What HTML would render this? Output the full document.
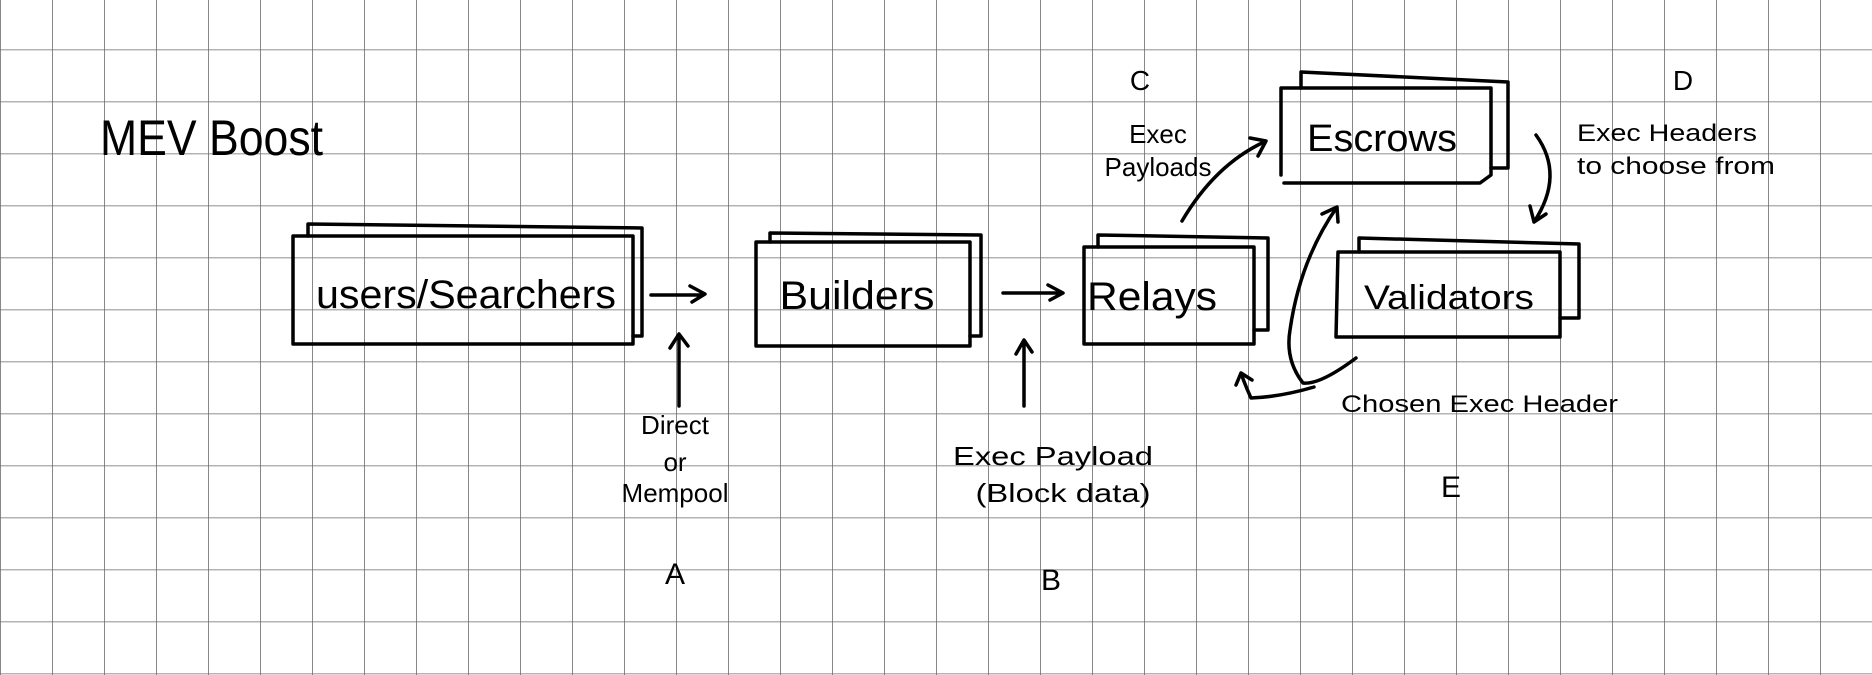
<!DOCTYPE html>
<html><head><meta charset="utf-8"><style>
html,body{margin:0;padding:0;background:#fff}
svg{display:block}
text{font-family:"Liberation Sans",sans-serif;fill:#000}
</style></head><body>
<svg width="1872" height="675" viewBox="0 0 1872 675" xmlns="http://www.w3.org/2000/svg">
<defs>
<pattern id="g" width="52" height="52" patternUnits="userSpaceOnUse" x="0" y="49.5">
<path d="M0 0H52M0 0V52" stroke="#6a6a6a" stroke-width="1.6" fill="none"/>
</pattern>
</defs>
<rect width="1872" height="675" fill="#fff"/>
<rect width="1872" height="675" fill="url(#g)"/>
<g fill="none" stroke="#000" stroke-width="3.5" stroke-linecap="round" stroke-linejoin="round">
<path d="M308 236V224L642 228V336H633"/>
<rect x="293" y="236" width="340" height="108"/>
<path d="M770 242V233L981 235V336H970"/>
<rect x="756" y="242" width="214" height="104"/>
<path d="M1098 247V235L1268 238V330H1254"/>
<rect x="1084" y="247" width="170" height="97"/>
<path d="M1301 88V72L1508 82V168H1491"/>
<path d="M1281 88H1491V175L1480 183H1284M1281 88V175"/>
<path d="M1359 252V238L1579 244V318H1560"/>
<path d="M1338 252H1560V337H1336Z"/>
<path d="M651 295H703M690 286L705 294L692 302"/>
<path d="M679 406V336M670 348L679 334L688 346"/>
<path d="M1003 293H1061M1048 285L1063 293L1050 300"/>
<path d="M1024 406V342M1016 354L1024 340L1032 352"/>
<path d="M1182 221Q1215 165 1264 142M1250 138L1266 141L1258 156"/>
<path d="M1536 135Q1565 175 1534 222M1530 206L1534 222L1546 214"/>
<path d="M1356 358Q1320 385 1303 383Q1285 360 1290 330Q1300 260 1337 207M1322 214L1337 207L1338 222"/>
<path d="M1314 387Q1280 397 1251 398Q1245 385 1241 373L1236 385M1241 373L1252 380"/>
</g>
<text x="100" y="155" font-size="50" textLength="223" lengthAdjust="spacingAndGlyphs">MEV Boost</text>
<text x="466" y="308" font-size="40" text-anchor="middle" textLength="300" lengthAdjust="spacingAndGlyphs">users/Searchers</text>
<text x="857" y="309" font-size="40" text-anchor="middle" textLength="155" lengthAdjust="spacingAndGlyphs">Builders</text>
<text x="1152" y="310" font-size="40" text-anchor="middle" textLength="130" lengthAdjust="spacingAndGlyphs">Relays</text>
<text x="1382" y="151" font-size="38" text-anchor="middle" textLength="150" lengthAdjust="spacingAndGlyphs">Escrows</text>
<text x="1449" y="309" font-size="34" text-anchor="middle" textLength="170" lengthAdjust="spacingAndGlyphs">Validators</text>
<g font-size="26" text-anchor="middle">
<text x="675" y="434">Direct</text>
<text x="675" y="471">or</text>
<text x="675" y="502">Mempool</text>
<text x="675" y="584" font-size="30">A</text>
<text x="1053" y="465" textLength="200" lengthAdjust="spacingAndGlyphs">Exec Payload</text>
<text x="1063" y="502" textLength="175" lengthAdjust="spacingAndGlyphs">(Block data)</text>
<text x="1051" y="590" font-size="30">B</text>
<text x="1140" y="90" font-size="28">C</text>
<text x="1158" y="143">Exec</text>
<text x="1158" y="176">Payloads</text>
<text x="1683" y="90" font-size="28">D</text>
<text x="1451" y="497" font-size="30">E</text>
</g>
<g font-size="24">
<text x="1577" y="141" textLength="180" lengthAdjust="spacingAndGlyphs">Exec Headers</text>
<text x="1577" y="174" textLength="198" lengthAdjust="spacingAndGlyphs">to choose from</text>
<text x="1341" y="412" textLength="277" lengthAdjust="spacingAndGlyphs">Chosen Exec Header</text>
</g>
</svg>
</body></html>
